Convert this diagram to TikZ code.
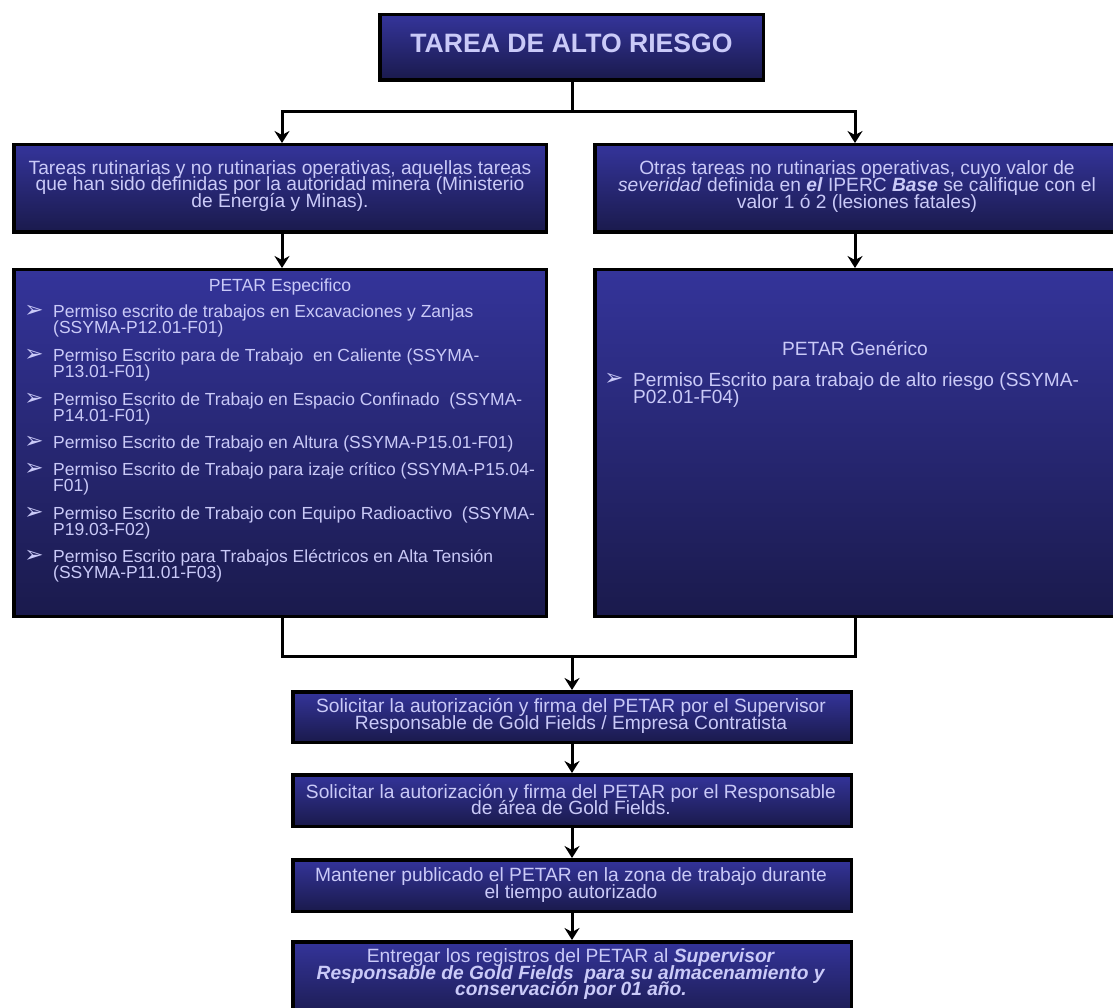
\documentclass[tikz,border=0pt]{standalone}
\usepackage{fontspec}
\setmainfont{Liberation Sans}
\newfontfamily\dejavu{DejaVu Sans}
\usetikzlibrary{arrows.meta}
\definecolor{gtop}{RGB}{52,52,154}
\definecolor{gbot}{RGB}{26,26,76}
\definecolor{txt}{RGB}{202,202,248}
\newcommand\myfs[2]{\fontsize{#1}{#2}\selectfont\lineskiplimit=-100pt\relax}
\begin{document}
\begin{tikzpicture}[x=1pt,y=-1pt,
  box/.style={draw=black, line width=3.5pt, top color=gtop, bottom color=gbot, rectangle, inner sep=0pt},
  lbl/.style={text=txt, align=center, inner sep=0pt, font=\myfs{19.2}{16.5}},
  item/.style={text=txt, align=left, anchor=north west, inner sep=0pt, font=\myfs{17.5}{16}},
  bul/.style={text=txt, anchor=center, inner sep=0pt, font=\dejavu\myfs{23}{23}},
  conn/.style={line width=3pt, draw=black},
  arr/.style={conn, -{Stealth[length=12pt,width=15pt,inset=4pt]}}]
\useasboundingbox (0,0) rectangle (1113,1008);

% boxes
\node[box, minimum width=383.5pt, minimum height=65.5pt] (top) at (571.5,47.5) {};
\node[box, minimum width=532.5pt, minimum height=87.5pt] (l1) at (280,188.5) {};
\node[box, minimum width=540pt, minimum height=87.5pt] (r1) at (864.75,188.5) {};
\node[box, minimum width=532.5pt, minimum height=346.5pt] (l2) at (280,443) {};
\node[box, minimum width=540pt, minimum height=346.5pt] (r2) at (864.75,443) {};
\node[box, minimum width=558.5pt, minimum height=50.5pt] (b3) at (572,717) {};
\node[box, minimum width=558.5pt, minimum height=51.5pt] (b4) at (572,800.5) {};
\node[box, minimum width=558.5pt, minimum height=51.5pt] (b5) at (572,885.5) {};
\node[box, minimum width=558.5pt, minimum height=80pt] (b6) at (572,981.75) {};

% texts
\node[lbl, font=\bfseries\myfs{26.6}{26}] (toptxt) at (571.5,43.5) {TAREA DE ALTO RIESGO};
\node[lbl] (l1t) at (280,186) {Tareas rutinarias y no rutinarias operativas, aquellas tareas\\que han sido definidas por la autoridad minera (Ministerio\\de Energía y Minas).};
\node[lbl, font=\myfs{19.2}{17}] (r1t) at (857,187) {Otras tareas no rutinarias operativas, cuyo valor de\\\textit{severidad} definida en \textbf{\textit{el}} IPERC \textbf{\textit{Base}} se califique con el\\valor 1 ó 2 (lesiones fatales)};

\node[lbl, font=\myfs{17.6}{16}] (l2t) at (280,286.7) {PETAR Especifico};
\node[bul] (lb1) at (34,311) {➢};
\node[item] (li1) at (53,301.3) {\rule{0pt}{16pt}Permiso escrito de trabajos en Excavaciones y Zanjas\\(SSYMA-P12.01-F01)};
\node[bul] (lb2) at (34,355) {➢};
\node[item] (li2) at (53,345.3) {\rule{0pt}{16pt}Permiso Escrito para de Trabajo\ \ en Caliente (SSYMA-\\P13.01-F01)};
\node[bul] (lb3) at (34,399) {➢};
\node[item] (li3) at (53,389.3) {\rule{0pt}{16pt}Permiso Escrito de Trabajo en Espacio Confinado\ \ (SSYMA-\\P14.01-F01)};
\node[bul] (lb4) at (34,442) {➢};
\node[item] (li4) at (53,432.3) {\rule{0pt}{16pt}Permiso Escrito de Trabajo en Altura (SSYMA-P15.01-F01)};
\node[bul] (lb5) at (34,469) {➢};
\node[item] (li5) at (53,459.3) {\rule{0pt}{16pt}Permiso Escrito de Trabajo para izaje crítico (SSYMA-P15.04-\\F01)};
\node[bul] (lb6) at (34,513) {➢};
\node[item] (li6) at (53,503.3) {\rule{0pt}{16pt}Permiso Escrito de Trabajo con Equipo Radioactivo\ \ (SSYMA-\\P19.03-F02)};
\node[bul] (lb7) at (34,556) {➢};
\node[item] (li7) at (53,546.3) {\rule{0pt}{16pt}Permiso Escrito para Trabajos Eléctricos en Alta Tensión\\(SSYMA-P11.01-F03)};

\node[lbl] (r2t) at (855,349) {PETAR Genérico};
\node[bul] (rb1) at (614,379) {➢};
\node[item, font=\myfs{19.1}{17}] (ri1) at (633,368.9) {\rule{0pt}{17pt}Permiso Escrito para trabajo de alto riesgo (SSYMA-\\P02.01-F04)};

\node[lbl] (b3t) at (571,716) {Solicitar la autorización y firma del PETAR por el Supervisor\\Responsable de Gold Fields / Empresa Contratista};
\node[lbl] (b4t) at (571,799.5) {Solicitar la autorización y firma del PETAR por el Responsable\\de área de Gold Fields.};
\node[lbl] (b5t) at (571,885) {Mantener publicado el PETAR en la zona de trabajo durante\\el tiempo autorizado};
\node[lbl] (b6t) at (571,974.5) {Entregar los registros del PETAR al \textbf{\textit{Supervisor}}\\\textbf{\textit{Responsable de Gold Fields\ \ para su almacenamiento y}}\\\textbf{\textit{conservación por 01 año.}}};

% junctions
\coordinate (jt) at (572,112);
\coordinate (jl) at (282,112);
\coordinate (jr) at (855,112);
\coordinate (bl) at (282,656);
\coordinate (br) at (855,656);
\coordinate (bm) at (572,656);

% connectors
\draw[conn] (top.south -| jt) -- (jt);
\draw[arr] (jt) -- (jl) -- (jl |- l1.north);
\draw[arr] (jt) -- (jr) -- (jr |- r1.north);
\draw[arr] (jl |- l1.south) -- (jl |- l2.north);
\draw[arr] (jr |- r1.south) -- (jr |- r2.north);
\draw[conn] (jl |- l2.south) -- (bl) -- (br) -- (jr |- r2.south);
\draw[arr] (bm) -- (b3.north);
\draw[arr] (b3.south) -- (b4.north);
\draw[arr] (b4.south) -- (b5.north);
\draw[arr] (b5.south) -- (b6.north);
\end{tikzpicture}
\end{document}
